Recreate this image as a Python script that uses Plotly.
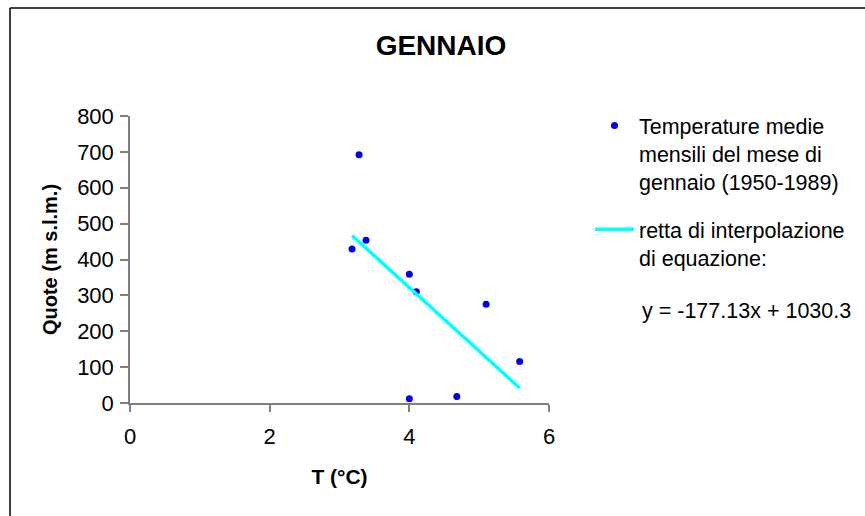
import plotly.graph_objects as go

# Mean January temperature (°C) against station altitude (m a.s.l.), 1950-1989
temperature = [3.18, 3.28, 3.38, 4.0, 4.1, 5.1, 5.58, 4.0, 4.68]
altitude = [429, 692, 454, 359, 310, 275, 116, 12, 18]

# Least-squares line reported on the chart
SLOPE = -177.13
INTERCEPT = 1030.3

x_ticks = [0, 2, 4, 6]
y_ticks = [0, 100, 200, 300, 400, 500, 600, 700, 800]

W, H = 865, 516
M_L, M_R, M_T, M_B = 130, 316, 116, 113
PW, PH = W - M_L - M_R, H - M_T - M_B

FONT = "Liberation Sans, Arial, sans-serif"
AXIS_GREY = "#808080"

x_line = [min(temperature), max(temperature)]
y_line = [SLOPE * x + INTERCEPT for x in x_line]


def px_to_paper_x(px):
    return (px - M_L) / PW


def px_to_paper_y(py):
    return (H - M_B - py) / PH


fig = go.Figure()

fig.add_trace(go.Scatter(
    x=temperature, y=altitude, mode="markers",
    name="Temperature medie<br>mensili del mese di<br>gennaio (1950-1989)",
    legendgroup="dati",
    marker=dict(color="#0000E0", size=7),
))

fig.add_trace(go.Scatter(
    x=x_line, y=y_line, mode="lines",
    name="retta di interpolazione<br>di equazione:",
    legendgroup="retta",
    line=dict(color="#00FFFF", width=3.5),
))

eq_text = f"y = {SLOPE:.2f}x + {INTERCEPT:.1f}"

fig.update_layout(
    width=W, height=H,
    margin=dict(l=M_L, r=M_R, t=M_T, b=M_B, autoexpand=False),
    paper_bgcolor="white", plot_bgcolor="white",
    font=dict(family=FONT, size=20, color="black"),
    title=dict(text="<b>GENNAIO</b>", font=dict(family=FONT, size=28, color="black"),
               x=441 / W, xanchor="center", xref="container",
               y=1 - 45 / H, yanchor="middle", yref="container"),
    showlegend=True,
    legend=dict(
        x=px_to_paper_x(590), xanchor="left",
        y=px_to_paper_y(105), yanchor="top",
        valign="top", bgcolor="rgba(0,0,0,0)", borderwidth=0,
        font=dict(family=FONT, size=21.5, color="black"),
        traceorder="grouped", tracegroupgap=17, itemwidth=39,
    ),
    xaxis=dict(
        range=[0, 6], tickvals=x_ticks, ticks="outside", ticklen=7,
        tickcolor=AXIS_GREY, tickwidth=1.5,
        showline=True, linecolor=AXIS_GREY, linewidth=1.5,
        showgrid=False, zeroline=False, ticklabelstandoff=6,
        tickfont=dict(family=FONT, size=22, color="black"),
        title=dict(text="<b>T (°C)</b>", font=dict(family=FONT, size=21, color="black"),
                   standoff=21),
    ),
    yaxis=dict(
        range=[0, 800], tickvals=y_ticks, ticks="outside", ticklen=8,
        tickcolor=AXIS_GREY, tickwidth=1.5,
        showline=True, linecolor=AXIS_GREY, linewidth=1.5,
        showgrid=False, zeroline=False, ticklabelstandoff=2,
        tickfont=dict(family=FONT, size=22, color="black"),
        title=dict(text="<b>Quote (m s.l.m.)</b>", font=dict(family=FONT, size=20, color="black"),
                   standoff=14),
    ),
    annotations=[dict(
        text=eq_text, xref="paper", yref="paper",
        x=px_to_paper_x(640), y=px_to_paper_y(311),
        xanchor="left", yanchor="middle", showarrow=False,
        font=dict(family=FONT, size=21.5, color="black"),
    )],
    shapes=[
        # chart frame: left and top edges
        dict(type="line", xref="paper", yref="paper",
             x0=px_to_paper_x(10), x1=px_to_paper_x(10),
             y0=px_to_paper_y(8), y1=px_to_paper_y(H + 5),
             line=dict(color="black", width=1.5)),
        dict(type="line", xref="paper", yref="paper",
             x0=px_to_paper_x(10), x1=px_to_paper_x(W + 5),
             y0=px_to_paper_y(8), y1=px_to_paper_y(8),
             line=dict(color="black", width=1.5)),
    ],
)

fig.write_html("out.html")
